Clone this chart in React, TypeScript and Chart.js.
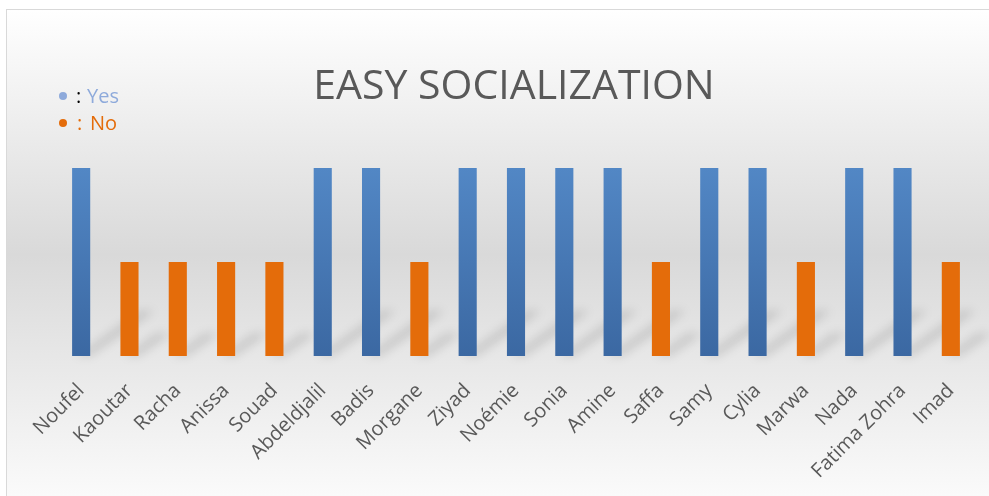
import React, { useEffect, useRef } from "react";
import { Chart, registerables } from "chart.js";

Chart.register(...registerables);

const categories = [
  "Noufel", "Kaoutar", "Racha", "Anissa", "Souad", "Abdeldjalil", "Badis",
  "Morgane", "Ziyad", "Noémie", "Sonia", "Amine", "Saffa", "Samy", "Cylia",
  "Marwa", "Nada", "Fatima Zohra", "Imad",
];
const yesValues = [2, null, null, null, null, 2, 2, null, 2, 2, 2, 2, null, 2, 2, null, 2, 2, null];
const noValues = [null, 1, 1, 1, 1, null, null, 1, null, null, null, null, 1, null, null, 1, null, null, 1];
const legendLabels = ["Yes", "No"];
const titleText = "EASY SOCIALIZATION";

const FONT = "'Open Sans', 'Noto Sans', sans-serif";

const decorPlugin = {
  id: "decor",
  beforeDatasetsDraw(chart: any) {
    const ctx = chart.ctx;
    ctx.save();
    ctx.filter = "blur(5px)";
    ctx.fillStyle = "rgba(0,0,0,0.13)";
    chart.data.datasets.forEach((_: any, di: number) => {
      const meta = chart.getDatasetMeta(di);
      meta.data.forEach((bar: any, i: number) => {
        const v = chart.data.datasets[di].data[i];
        if (v == null) return;
        const { x, y, base, width } = bar.getProps(["x", "y", "base", "width"], true);
        const h = base - y;
        const dx = h * 0.34;
        const dy = h * 0.24;
        const l = x - width / 2;
        const r = x + width / 2;
        ctx.beginPath();
        ctx.moveTo(l + 4, base);
        ctx.lineTo(r, base);
        ctx.lineTo(r + dx, base - dy);
        ctx.lineTo(l + dx + 4, base - dy);
        ctx.closePath();
        ctx.fill();
      });
    });
    ctx.restore();
  },
  afterDraw(chart: any) {
    const ctx = chart.ctx;
    ctx.save();
    // title
    ctx.font = `41px ${FONT}`;
    ctx.fillStyle = "#595959";
    ctx.textAlign = "center";
    ctx.textBaseline = "alphabetic";
    ctx.fillText(titleText, 514, 99);
    // legend
    ctx.textAlign = "left";
    ctx.font = `20px ${FONT}`;
    ctx.fillStyle = "#8eaadb";
    ctx.beginPath();
    ctx.arc(63, 96, 4, 0, Math.PI * 2);
    ctx.fill();
    ctx.fillStyle = "#000000";
    ctx.fillText(":", 76, 103);
    ctx.fillStyle = "#8eaadb";
    ctx.fillText(legendLabels[0], 87, 103);
    ctx.fillStyle = "#e46c0a";
    ctx.beginPath();
    ctx.arc(63, 123, 4, 0, Math.PI * 2);
    ctx.fill();
    ctx.fillText(":", 77, 130);
    ctx.fillText(legendLabels[1], 90, 130);
    ctx.restore();
  },
};

export default function App() {
  const ref = useRef<HTMLCanvasElement>(null);
  useEffect(() => {
    if (!ref.current) return;
    const blueGrad = (c: any) => {
      const chart = c.chart;
      const area = chart.chartArea;
      if (!area) return "#4a7ebb";
      const g = chart.ctx.createLinearGradient(0, area.top, 0, area.bottom);
      g.addColorStop(0, "#5287c5");
      g.addColorStop(1, "#3b68a2");
      return g;
    };
    const chart = new Chart(ref.current, {
      type: "bar",
      data: {
        labels: categories,
        datasets: [
          { label: legendLabels[0], data: yesValues as any, backgroundColor: blueGrad as any, categoryPercentage: 1, barPercentage: 0.375 },
          { label: legendLabels[1], data: noValues as any, backgroundColor: "#e46c0a", categoryPercentage: 1, barPercentage: 0.375 },
        ],
      },
      options: {
        responsive: false,
        animation: false,
        events: [],
        layout: { padding: { left: 57, right: 14, top: 168, bottom: 0 } },
        plugins: { legend: { display: false }, title: { display: false }, tooltip: { enabled: false } },
        scales: {
          x: {
            stacked: true,
            grid: { display: false },
            border: { display: false },
            ticks: {
              autoSkip: false,
              maxRotation: 45,
              minRotation: 45,
              color: "#595959",
              font: { family: FONT, size: 20 },
              padding: 15,
            },
            afterFit: (s: any) => { s.height = 140; },
          },
          y: { stacked: true, display: false, min: 0, max: 2 },
        },
      },
      plugins: [decorPlugin],
    });
    return () => chart.destroy();
  }, []);
  return (
    <div style={{ position: "fixed", left: 0, top: 0, width: 989, height: 496, overflow: "hidden", background: "#ffffff" }}>
      <div
        style={{
          position: "absolute", left: 6, top: 9, width: 1010, height: 520,
          border: "1.5px solid #d9d9d9",
          background: "linear-gradient(to bottom, #ffffff 0%, #d9d9d9 47%, #ffffff 100%)",
        }}
      />
      <canvas ref={ref} width={989} height={496} style={{ position: "absolute", left: 0, top: 0 }} />
    </div>
  );
}
